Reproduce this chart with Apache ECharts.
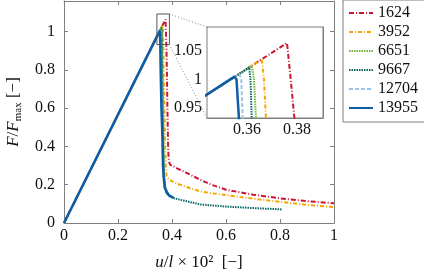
<!DOCTYPE html>
<html><head><meta charset="utf-8">
<script src="https://cdn.jsdelivr.net/npm/echarts@6/dist/echarts.min.js"></script>
<style>html,body{margin:0;padding:0;background:#fff}#c{width:424px;height:277px}</style>
</head><body><div id="c"></div>
<script>
// ---- data ----
const seriesNames = ['1624', '3952', '6651', '9667', '12704', '13955'];
const s1624 = [[0,0],[0.376,1.064],[0.3775,1.0],[0.379,0.93],[0.381,0.8],[0.383,0.6],[0.385,0.45],[0.386,0.38],[0.388,0.325],[0.393,0.305],[0.417,0.287],[0.45,0.265],[0.504,0.226],[0.55,0.198],[0.6,0.174],[0.7,0.148],[0.8,0.129],[0.9,0.114],[1.0,0.103]];
const s3952 = [[0,0],[0.3659,1.035],[0.3668,1.0],[0.3676,0.93],[0.369,0.8],[0.372,0.6],[0.375,0.4],[0.377,0.3],[0.38,0.245],[0.39,0.225],[0.417,0.207],[0.45,0.19],[0.504,0.165],[0.55,0.155],[0.6,0.146],[0.7,0.127],[0.8,0.111],[0.9,0.095],[1.0,0.083]];
const s6651 = [[0,0],[0.3619,1.024],[0.3628,1.0],[0.3636,0.93],[0.365,0.8],[0.367,0.6],[0.369,0.4],[0.371,0.25],[0.376,0.18],[0.39,0.145],[0.41,0.13]];
const s9667 = [[0,0],[0.3609,1.021],[0.3614,1.0],[0.3619,0.93],[0.363,0.8],[0.365,0.6],[0.367,0.4],[0.369,0.25],[0.374,0.18],[0.385,0.15],[0.405,0.13],[0.45,0.115],[0.504,0.097],[0.6,0.086],[0.7,0.078],[0.806,0.071]];
const s12704 = [[0,0],[0.357,1.010],[0.3577,1.0],[0.3583,0.93],[0.36,0.8],[0.362,0.6],[0.364,0.4],[0.366,0.25],[0.372,0.18],[0.385,0.145],[0.40,0.132]];
const s13955 = [[0,0],[0.355,1.005],[0.3558,1.0],[0.3568,0.93],[0.358,0.8],[0.361,0.6],[0.365,0.43],[0.367,0.3],[0.369,0.25],[0.373,0.19],[0.38,0.16],[0.39,0.143],[0.405,0.132]];
const seriesData = [s1624, s3952, s6651, s9667, s12704, s13955];
const mainXRange = [0, 1];
const mainYRange = [0, 1.16];
const mainTickStep = 0.2;
const insetXRange = [0.344, 0.3904];
const insetYRange = [0.9325, 1.092];
const insetXTicks = [0.36, 0.38];
const insetYTicks = [0.95, 1, 1.05];

// ---- style ----
const colors = ['#cc1433', '#f5a500', '#72b43c', '#0b6b6b', '#9cc4ea', '#0d5ca6'];
const dashes = [[5,2,1,2], [4,2,1,2], [1.5,1], [1.5,1], [4,2], 'solid'];
const widths = [2, 2, 2, 2, 2, 2.5];
const FONT = 'Liberation Serif';
const FS = 16;
const axisCol = '#7f7f7f';

const chart = echarts.init(document.getElementById('c'), null, {renderer: 'canvas'});

function mkAxis(extra) {
  return Object.assign({
    type: 'value',
    axisLine: {show: true, onZero: false, lineStyle: {color: axisCol, width: 1}},
    axisTick: {show: true, inside: true, length: 4, lineStyle: {color: axisCol}},
    splitLine: {show: false},
    axisLabel: {show: false, color: '#111', fontFamily: FONT, fontSize: FS}
  }, extra);
}
const hideMax = v => (Math.abs(v / mainTickStep - Math.round(v / mainTickStep)) < 1e-6 ? String(+v.toFixed(2)) : '');

const xAxes = [
  mkAxis({gridIndex: 0, position: 'bottom', min: mainXRange[0], max: mainXRange[1], interval: mainTickStep,
    axisLabel: {show: true, color: '#111', fontFamily: FONT, fontSize: FS, margin: 5, formatter: hideMax},
    name: '{i|u}{n|/}{i|l}{n| × 10²  [−]}', nameLocation: 'middle', nameGap: 31,
    nameTextStyle: {fontFamily: FONT, fontSize: 17, color: '#111',
      rich: {i: {fontStyle: 'italic', fontFamily: FONT, fontSize: 17, color: '#111'}, n: {fontFamily: FONT, fontSize: 17, color: '#111'}}}}),
  mkAxis({gridIndex: 0, position: 'top', min: mainXRange[0], max: mainXRange[1], interval: mainTickStep}),
  mkAxis({gridIndex: 1, position: 'bottom', min: insetXRange[0], max: insetXRange[1],
    axisTick: {show: true, inside: true, length: 4, lineStyle: {color: axisCol}, customValues: insetXTicks},
    axisLabel: {show: true, color: '#111', fontFamily: FONT, fontSize: FS, margin: 4, customValues: insetXTicks}}),
  mkAxis({gridIndex: 1, position: 'top', min: insetXRange[0], max: insetXRange[1],
    axisTick: {show: true, inside: true, length: 4, lineStyle: {color: axisCol}, customValues: insetXTicks}})
];
const yAxes = [
  mkAxis({gridIndex: 0, position: 'left', min: mainYRange[0], max: mainYRange[1], interval: mainTickStep,
    axisLabel: {show: true, color: '#111', fontFamily: FONT, fontSize: FS, margin: 9, formatter: hideMax},
    name: '{i|F}{n|/}{i|F}{s|max}{n| [−]}', nameLocation: 'middle', nameGap: 29, nameRotate: 90,
    nameTextStyle: {fontFamily: FONT, fontSize: 17, color: '#111',
      rich: {i: {fontStyle: 'italic', fontFamily: FONT, fontSize: 17, lineHeight: 22, color: '#111'},
             n: {fontFamily: FONT, fontSize: 17, lineHeight: 22, color: '#111'},
             s: {fontFamily: FONT, fontSize: 11, lineHeight: 12, verticalAlign: 'bottom', color: '#111'}}}}),
  mkAxis({gridIndex: 0, position: 'right', min: mainYRange[0], max: mainYRange[1], interval: mainTickStep}),
  mkAxis({gridIndex: 1, position: 'left', min: insetYRange[0], max: insetYRange[1],
    axisTick: {show: true, inside: true, length: 4, lineStyle: {color: axisCol}, customValues: insetYTicks},
    axisLabel: {show: true, color: '#111', fontFamily: FONT, fontSize: FS, margin: 5, customValues: insetYTicks}}),
  mkAxis({gridIndex: 1, position: 'right', min: insetYRange[0], max: insetYRange[1],
    axisTick: {show: true, inside: true, length: 4, lineStyle: {color: axisCol}, customValues: insetYTicks}})
];

const series = [];
seriesNames.forEach((n, i) => {
  series.push({name: n, type: 'line', xAxisIndex: 0, yAxisIndex: 0, data: seriesData[i], showSymbol: false, symbol: 'none',
    lineStyle: {color: colors[i], width: widths[i], type: dashes[i]}, itemStyle: {color: colors[i]}, animation: false, z: 3 + i});
});
seriesNames.forEach((n, i) => {
  series.push({name: n, type: 'line', xAxisIndex: 2, yAxisIndex: 2, data: seriesData[i], showSymbol: false, symbol: 'none', clip: true,
    lineStyle: {color: colors[i], width: widths[i], type: dashes[i]}, itemStyle: {color: colors[i]}, animation: false, z: 15 + i});
});
// zoom rectangle in main plot, built from the inset ranges
series.push({name: 'zoombox', type: 'line', xAxisIndex: 0, yAxisIndex: 0, showSymbol: false, symbol: 'none', animation: false, silent: true, z: 20,
  lineStyle: {color: '#555', width: 1},
  data: [[insetXRange[0], insetYRange[0]], [insetXRange[1], insetYRange[0]], [insetXRange[1], insetYRange[1]], [insetXRange[0], insetYRange[1]], [insetXRange[0], insetYRange[0]]]});

chart.setOption({
  animation: false,
  backgroundColor: '#fff',
  grid: [
    {left: 64, top: 1, width: 270, height: 222, show: false, containLabel: false, outerBoundsMode: 'none'},
    {left: 207, top: 27, width: 116, height: 91, show: true, backgroundColor: '#fff', borderColor: axisCol, borderWidth: 1, z: 10, containLabel: false, outerBoundsMode: 'none'}
  ],
  xAxis: xAxes,
  yAxis: yAxes,
  legend: {
    data: seriesNames, orient: 'vertical', left: 343, top: 0,
    padding: [5, 9, 6, 5], itemGap: 3, itemWidth: 24, itemHeight: 15,
    itemStyle: {opacity: 0},
    borderColor: '#7f7f7f', borderWidth: 1, backgroundColor: '#fff',
    textStyle: {fontFamily: FONT, fontSize: FS, color: '#111'}, selectedMode: false
  },
  series: series
});

// dotted connectors from zoom box to inset
const pA = chart.convertToPixel({xAxisIndex: 0, yAxisIndex: 0}, [insetXRange[1], insetYRange[1]]);
const pB = chart.convertToPixel({xAxisIndex: 0, yAxisIndex: 0}, [insetXRange[1], insetYRange[0]]);
const qA = chart.convertToPixel({xAxisIndex: 2, yAxisIndex: 2}, [insetXRange[0], insetYRange[1]]);
const qB = chart.convertToPixel({xAxisIndex: 2, yAxisIndex: 2}, [insetXRange[0], insetYRange[0]]);
chart.setOption({graphic: [
  {type: 'line', shape: {x1: pA[0], y1: pA[1], x2: qA[0], y2: qA[1]}, style: {stroke: '#888', lineWidth: 1, lineDash: [1, 2]}, z: 25},
  {type: 'line', shape: {x1: pB[0], y1: pB[1], x2: qB[0], y2: qB[1]}, style: {stroke: '#888', lineWidth: 1, lineDash: [1, 2]}, z: 25}
]});
</script></body></html>
